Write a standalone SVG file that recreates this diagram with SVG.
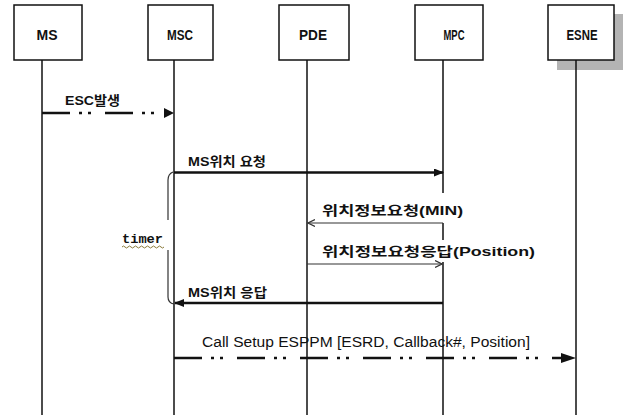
<svg xmlns="http://www.w3.org/2000/svg" width="627" height="415" viewBox="0 0 627 415">
<style>
.box{fill:#fff;stroke:#111;stroke-width:1.5}
.bl{font-family:"Liberation Sans","Noto Sans CJK KR",sans-serif;font-weight:bold;font-size:14px;fill:#111;text-anchor:middle}
.life{stroke:#111;stroke-width:1.5;fill:none}
.lbl{font-family:"Liberation Sans","Noto Sans CJK KR",sans-serif;font-weight:bold;font-size:13px;fill:#111}
.thick{stroke:#111;stroke-width:2.5;fill:none}
.thin{stroke:#333;stroke-width:1.2;fill:none}
.dd{stroke-dasharray:28 9 3 6 3 14}
</style>
<defs>
<marker id="fa" markerWidth="10" markerHeight="8" refX="9" refY="4" orient="auto" markerUnits="userSpaceOnUse"><path d="M0,0 L10,4 L0,8 Z" fill="#111"/></marker>
<marker id="oa" markerWidth="8" markerHeight="8" refX="7" refY="4" orient="auto" markerUnits="userSpaceOnUse"><path d="M0,0.5 L7,4 L0,7.5" fill="none" stroke="#333" stroke-width="1.2"/></marker>
</defs>
<g id="lifelines">
<line class="life" x1="42" y1="60" x2="42" y2="415"/>
<line class="life" x1="174" y1="60" x2="174" y2="415"/>
<line class="life" x1="307" y1="60" x2="307" y2="415"/>
<path class="life" d="M443,60 V193 M443,223 V240 M443,262 V415"/>
<line class="life" x1="576" y1="60" x2="576" y2="415"/>
</g>
<g id="MS"><rect class="box" x="14" y="5" width="68" height="55"/><text class="bl" x="47" y="40" textLength="21" lengthAdjust="spacingAndGlyphs">MS</text></g>
<g id="MSC"><rect class="box" x="148" y="5" width="65" height="55"/><text class="bl" x="180" y="40" textLength="26" lengthAdjust="spacingAndGlyphs">MSC</text></g>
<g id="PDE"><rect class="box" x="279" y="5" width="70" height="55"/><text class="bl" x="313" y="40" textLength="28" lengthAdjust="spacingAndGlyphs">PDE</text></g>
<g id="MPC"><rect class="box" x="415" y="5" width="68" height="55"/><text class="bl" x="454" y="40" textLength="21" lengthAdjust="spacingAndGlyphs">MPC</text></g>
<g id="ESNE"><rect x="557" y="14" width="66" height="56" fill="#b4b4b4"/><rect class="box" x="548" y="5" width="66" height="55"/><text class="bl" x="582" y="40" textLength="31" lengthAdjust="spacingAndGlyphs">ESNE</text><line class="life" x1="576" y1="60" x2="576" y2="70"/></g>
<g id="connectors">
<line class="thick dd" x1="42" y1="113" x2="164" y2="113"/>
<path d="M164,108 L174,113 L164,118 Z" fill="#111"/>
<line class="thick" x1="174" y1="172.5" x2="443" y2="172.5" marker-end="url(#fa)"/>
<line class="thin" x1="443" y1="223" x2="308" y2="223" marker-end="url(#oa)"/>
<line class="thin" x1="307" y1="264" x2="442" y2="264" marker-end="url(#oa)"/>
<line class="thick" x1="443" y1="303" x2="175" y2="303" marker-end="url(#fa)"/>
<line class="thick dd" x1="174" y1="358" x2="562" y2="358"/>
<path d="M561,353 L576,358 L561,363 Z" fill="#111"/>
<path class="thin" d="M173,172 Q168,174 168,180 V220 M168,250 V297 Q168,303 174,304" stroke-width="1.5"/>
</g>
<g id="labels">
<text class="lbl" x="65" y="105" textLength="55" lengthAdjust="spacingAndGlyphs">ESC발생</text>
<text class="lbl" x="188" y="166" textLength="78" lengthAdjust="spacingAndGlyphs">MS위치 요청</text>
<text class="lbl" x="322" y="215" textLength="141" lengthAdjust="spacingAndGlyphs">위치정보요청(MIN)</text>
<text class="lbl" x="322" y="256" textLength="213" lengthAdjust="spacingAndGlyphs">위치정보요청응답(Position)</text>
<text class="lbl" x="188" y="297" textLength="79" lengthAdjust="spacingAndGlyphs">MS위치 응답</text>
<text x="202" y="347" font-family="Liberation Sans, sans-serif" font-size="14" fill="#111" textLength="328" lengthAdjust="spacingAndGlyphs">Call Setup ESPPM [ESRD, Callback#, Position]</text>
<text x="122" y="243" font-family="Liberation Mono, monospace" font-weight="bold" font-size="13" fill="#111" textLength="41" lengthAdjust="spacingAndGlyphs">timer</text>
<path d="M122,247 q1.5,-2 3,0 t3,0 t3,0 t3,0 t3,0 t3,0 t3,0 t3,0 t3,0 t3,0 t3,0 t3,0 t3,0 t3,0" fill="none" stroke="#8a7a3a" stroke-width="1"/>
</g>
</svg>
